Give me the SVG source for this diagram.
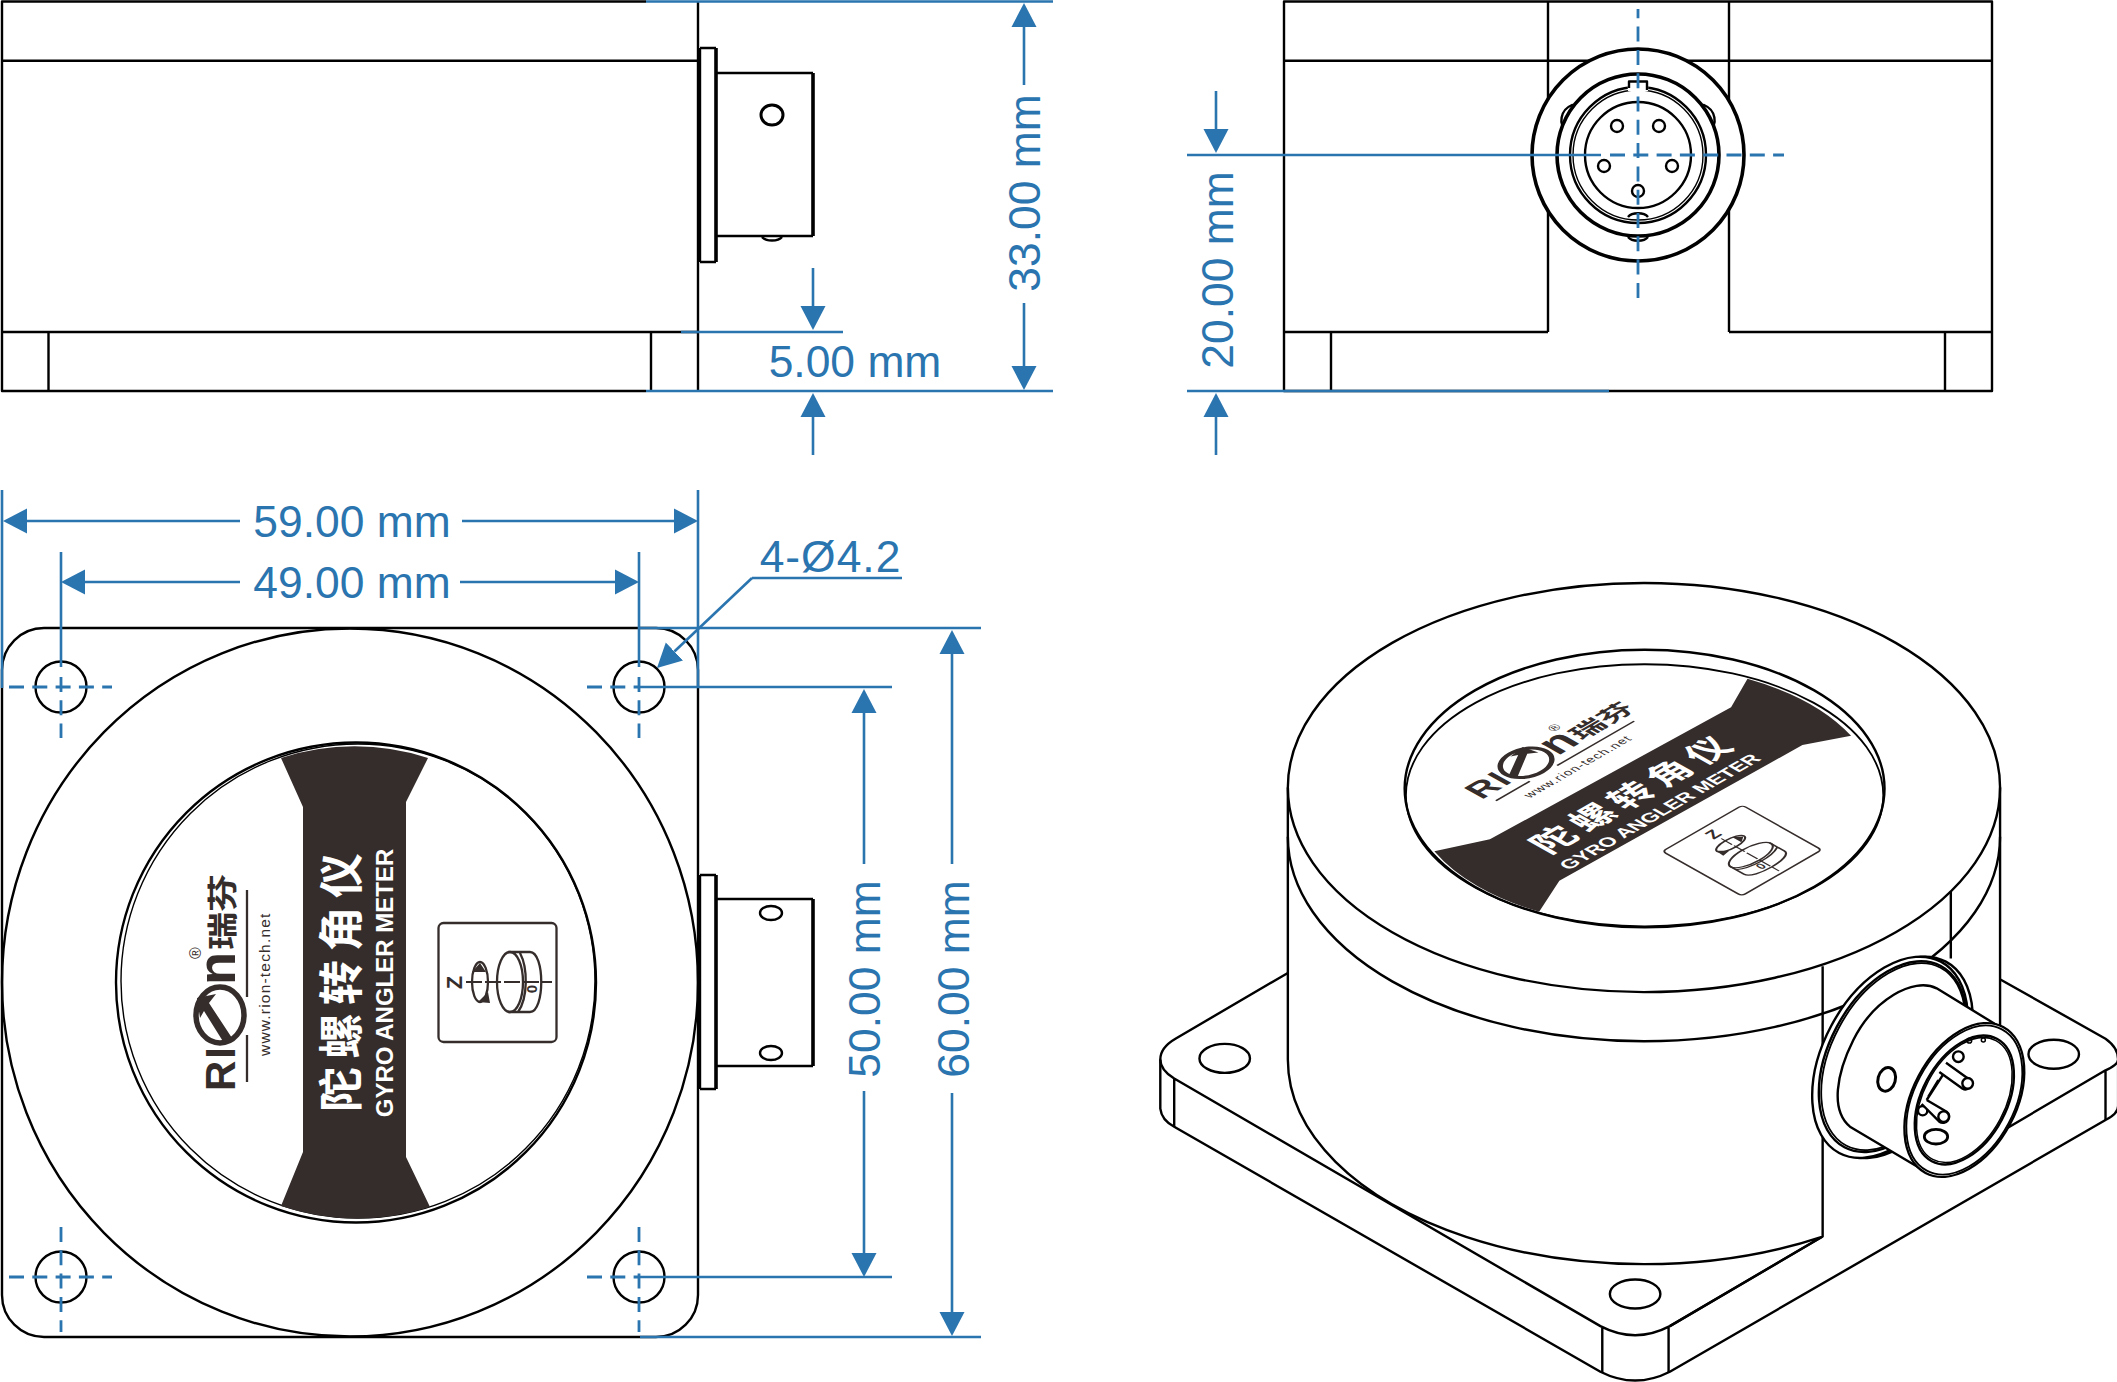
<svg xmlns="http://www.w3.org/2000/svg" width="2117" height="1382" viewBox="0 0 2117 1382">
<style>
.k{fill:none;stroke:#000;stroke-width:2.4;stroke-linejoin:round}
.kw{fill:#fff;stroke:#000;stroke-width:2.4;stroke-linejoin:round}
.h{fill:none;stroke:#000;stroke-width:3.6;stroke-linejoin:round}
.hw{fill:#fff;stroke:#000;stroke-width:3.6}
.n{vector-effect:non-scaling-stroke}
.b{fill:none;stroke:#2a75af;stroke-width:2.6}
.d{fill:none;stroke:#2a75af;stroke-width:2.8;stroke-dasharray:15 8.3}
.a{fill:none;stroke:#2a75af;stroke-width:2.6;marker-end:url(#ah)}
.t{font-family:"Liberation Sans",Arial,sans-serif;font-size:44.4px;fill:#2a75af;text-anchor:middle}
.s{font-family:"Liberation Sans",Arial,sans-serif;fill:#352d2b}
.c{font-family:"Noto Sans CJK SC",sans-serif}
.dk{fill:#352d2b}
.ls{fill:none;stroke:#352d2b;stroke-width:2.3}
</style>
<defs>
<marker id="ah" markerUnits="userSpaceOnUse" markerWidth="25" markerHeight="26" refX="0" refY="13" orient="auto"><path d="M0,0.5 L24,13 L0,25.5 Z" fill="#2a75af"/></marker>
</defs>
<rect width="2117" height="1382" fill="#fff"/>

<g id="side-view">
<path class="k" d="M646,1.5 H2 V391 H646 M2,60.7 H698 M2,332 H698 M698,1.5 V391 M48.5,332 V391 M651,332 V391"/>
<path class="k" d="M700,48 H716 M700,262 H716 M700,48 V262"/>
<path class="h" d="M716,48 V262 M813,73 V236"/>
<path class="k" d="M716,73 H813 M716,236 H813"/>
<ellipse class="h" cx="772" cy="115" rx="11" ry="10" style="stroke-width:3"/>
<path class="k" d="M762,237 A11,6 0 0 0 782,237"/>
</g>

<g id="end-view">
<path class="k" d="M1284,1.5 H1992 V391 H1284 Z M1284,60.7 H1992 M1284,332 H1548 M1729,332 H1992 M1548,1.5 V332 M1729,1.5 V332 M1331,332 V391 M1945,332 V391"/>
<circle class="hw" cx="1638" cy="155" r="106"/>
<path class="k" d="M1572,105 C1560,110 1558,125 1567,130 L1585,128 C1588,122 1586,110 1572,105 Z M1704,105 C1716,110 1718,125 1709,130 L1691,128 C1688,122 1690,110 1704,105 Z"/>
<path class="k" d="M1628,237 C1632,242 1644,242 1648,237"/>
<circle class="hw" cx="1638" cy="155" r="81"/>
<circle class="kw" cx="1638" cy="155" r="68"/>
<circle class="k" cx="1638" cy="155" r="65" style="stroke-width:1.4"/>
<path class="kw" d="M1629,90 V82 H1647 V90 Z" style="stroke:#fff"/>
<path class="k" d="M1629,88 V81.5 H1647 V90"/>
<path class="k" d="M1628,217 C1632,212 1644,212 1648,217"/>
<circle class="k" cx="1638" cy="155" r="53"/>
<circle class="k" cx="1617" cy="126" r="6"/>
<circle class="k" cx="1659" cy="126" r="6"/>
<circle class="k" cx="1604" cy="166" r="6"/>
<circle class="k" cx="1672" cy="166" r="6"/>
<circle class="k" cx="1638" cy="191" r="6"/>
</g>

<g id="front-view">
<rect class="k" x="2" y="628" width="696" height="709" rx="42"/>
<ellipse class="k" cx="350" cy="982.5" rx="348" ry="354"/>
<circle class="k" cx="61" cy="687" r="25.500"/>
<circle class="k" cx="639" cy="687" r="25.500"/>
<circle class="k" cx="61" cy="1277" r="25.500"/>
<circle class="k" cx="639" cy="1277" r="25.500"/>
<path class="k" d="M700,875 H716 M700,1089 H716 M700,875 V1089"/>
<path class="h" d="M716,875 V1089 M813,899 V1066"/>
<path class="k" d="M716,899 H813 M716,1066 H813"/>
<ellipse class="k" cx="771" cy="913" rx="11" ry="7"/>
<ellipse class="k" cx="771" cy="1053" rx="11" ry="7"/>
<circle class="k" cx="356" cy="982.5" r="240"/>
<circle class="k" cx="358" cy="981" r="237" style="stroke-width:1.4"/>
</g>

<g id="front-label">
<path class="dk" d="M281,758 L303,807 V1152 L281,1206 A237,237 0 0 0 430,1207 L406,1157 V802 L428,758 A237,237 0 0 0 281,758 Z"/>
<text class="c" transform="translate(357.6,1112) rotate(-90)" font-size="45" font-weight="700" letter-spacing="8.5" fill="#fff">陀螺转角仪</text>
<text class="s" transform="translate(393,983) rotate(-90)" font-size="24" font-weight="700" text-anchor="middle" style="fill:#fff">GYRO ANGLER METER</text>
<text class="s" transform="translate(235,1091) rotate(-90)" font-size="42" font-weight="700" letter-spacing="2">RI</text>
<ellipse class="ls" cx="220" cy="1015" rx="24" ry="28" style="stroke-width:5.500"/>
<path class="dk" d="M197,998 L216,994 L209,1003 L232,1038 L224,1043 L204,1011 L200,1018 Z"/>
<text class="s" transform="translate(235,985) rotate(-90)" font-size="54" font-weight="700">n</text>
<text class="s" transform="translate(201,953) rotate(-90)" font-size="16" text-anchor="middle">®</text>
<text class="c" transform="translate(233,950) rotate(-90) scale(1.27,1)" font-size="30" font-weight="700" fill="#352d2b">瑞芬</text>
<path class="ls" d="M247,890 V997 M247,1035 V1082"/>
<text class="s" transform="translate(269.500,1056) rotate(-90)" font-size="15.500" letter-spacing="1.2">www.rion-tech.net</text>
<rect class="ls" x="438.500" y="923" width="118" height="119" rx="5"/>
<text class="s" transform="translate(462,982.500) rotate(-90)" font-size="22" font-weight="700" text-anchor="middle">Z</text>
<ellipse class="ls" cx="480" cy="982" rx="8" ry="20"/>
<path class="dk" d="M472,972 L480,963 L486,972 Z M478,1002 L488,992 L490,1003 Z"/>
<path class="ls" d="M508,952 H530 C545,952 545,1012 530,1012 H508 M520,953 C528,968 528,998 518,1012"/>
<ellipse class="ls" cx="510" cy="982" rx="13" ry="30"/>
<path class="ls" d="M466,982 H552" stroke-dasharray="16 3" style="stroke-width:1.8"/>
<text class="s" transform="translate(537,989) rotate(-90)" font-size="15" font-weight="700" text-anchor="middle">0</text>
</g>

<g id="iso-view">
<g transform="translate(1130,570) scale(.6314,.5179)">
<path class="kw n" d="M250,778 L72,905 Q48,922 48,945 V1040 Q50,1062 70,1075 L745,1548 Q800,1582 855,1548 L1545,1062 Q1565,1050 1565,1035 V945 Q1565,922 1545,905 L1370,785 Z"/>
<path class="k n" d="M48,945 Q48,965 70,982 L745,1460 Q800,1495 855,1460 L1545,966 Q1565,955 1565,945 M70,982 V1075 M748,1462 V1550 M853,1462 V1550 M1545,966 V1062"/>
<ellipse class="k n" cx="150" cy="943" rx="40" ry="28"/>
<ellipse class="k n" cx="800" cy="1398" rx="40" ry="28"/>
<ellipse class="k n" cx="1463" cy="935" rx="40" ry="28"/>
<path class="n" fill="#fff" d="M250,420 V945 A564,395 0 0 0 1097,1287 L1097,1293 L1390,1084 L1378,1070 V420 A564,395 0 0 0 250,420 Z"/>
<path class="k n" d="M250,420 V945 A564,395 0 0 0 1097,1287 M1378,420 V880 M1097,765 V1287 L855,1460 M1300,620 V750"/>
<ellipse class="k n" cx="814" cy="420" rx="564" ry="395"/>
<path class="k n" d="M250,515 A564,395 0 0 0 1378,515"/>
<ellipse class="k n" cx="815" cy="422" rx="380" ry="268"/>
<ellipse class="k n" style="stroke-width:1.800" cx="815" cy="435" rx="378" ry="253"/>
<path class="dk" d="M978,210 A378,253 0 0 1 1142,320 L1065,338 L680,600 L648,660 A378,253 0 0 1 482,543 L570,520 L952,265 Z"/>
</g>
</g>

<g id="iso-label" transform="matrix(.672 .378 -.72 .415 2109 258.4)">
<text class="c" transform="translate(357.6,1112) rotate(-90)" font-size="45" font-weight="700" letter-spacing="8.5" fill="#fff">陀螺转角仪</text>
<text class="s" transform="translate(393,983) rotate(-90)" font-size="24" font-weight="700" text-anchor="middle" style="fill:#fff">GYRO ANGLER METER</text>
<text class="s" transform="translate(235,1091) rotate(-90)" font-size="42" font-weight="700" letter-spacing="2">RI</text>
<ellipse class="ls" cx="220" cy="1015" rx="24" ry="28" style="stroke-width:5.500"/>
<path class="dk" d="M197,998 L216,994 L209,1003 L232,1038 L224,1043 L204,1011 L200,1018 Z"/>
<text class="s" transform="translate(235,985) rotate(-90)" font-size="54" font-weight="700">n</text>
<text class="s" transform="translate(201,953) rotate(-90)" font-size="16" text-anchor="middle">®</text>
<text class="c" transform="translate(233,950) rotate(-90) scale(1.27,1)" font-size="30" font-weight="700" fill="#352d2b">瑞芬</text>
<path class="ls" d="M247,890 V997 M247,1035 V1082"/>
<text class="s" transform="translate(269.500,1056) rotate(-90)" font-size="15.500" letter-spacing="1.2">www.rion-tech.net</text>
</g>
<g id="iso-icon" transform="matrix(.672 .378 -.672 .387 2068 282.3)">
<rect class="ls" x="438.500" y="923" width="118" height="119" rx="5"/>
<text class="s" transform="translate(462,982.500) rotate(-90)" font-size="22" font-weight="700" text-anchor="middle">Z</text>
<ellipse class="ls" cx="480" cy="982" rx="8" ry="20"/>
<path class="dk" d="M472,972 L480,963 L486,972 Z M478,1002 L488,992 L490,1003 Z"/>
<path class="ls" d="M508,952 H530 C545,952 545,1012 530,1012 H508 M520,953 C528,968 528,998 518,1012"/>
<ellipse class="ls" cx="510" cy="982" rx="13" ry="30"/>
<path class="ls" d="M466,982 H552" stroke-dasharray="16 3" style="stroke-width:1.8"/>
<text class="s" transform="translate(537,989) rotate(-90)" font-size="15" font-weight="700" text-anchor="middle">0</text>
</g>

<g id="iso-connector" transform="translate(1780,940) scale(.33333)">
<ellipse class="kw n" transform="rotate(-62 345 352)" cx="345" cy="352" rx="325" ry="200"/>
<ellipse class="kw n" transform="rotate(-62 330 352)" cx="330" cy="352" rx="325" ry="200"/>
<ellipse class="k n" transform="rotate(-62 338 350)" cx="338" cy="350" rx="308" ry="190"/>
<ellipse class="k n" style="stroke-width:1.800" transform="rotate(-62 340 350)" cx="340" cy="350" rx="302" ry="185"/>
<path class="kw n" d="M420,685 L210,560 C150,510 170,400 220,300 C280,180 400,110 470,145 L650,255 Z"/>
<ellipse class="k n" style="stroke-width:3" transform="rotate(-75 320 418)" cx="320" cy="418" rx="36" ry="26"/>
<ellipse class="kw n" transform="rotate(-62 553 480)" cx="553" cy="480" rx="248" ry="155"/>
<ellipse class="k n" style="stroke-width:1.800" transform="rotate(-62 553 480)" cx="553" cy="480" rx="240" ry="150"/>
<ellipse class="k n" transform="rotate(-62 553 480)" cx="553" cy="480" rx="208" ry="127"/>
<ellipse class="k n" style="stroke-width:1.500" transform="rotate(-62 553 480)" cx="553" cy="480" rx="202" ry="122"/>
<circle class="k n" cx="535" cy="350" r="16"/>
<circle class="k n" cx="428" cy="512" r="14"/>
<path class="k n" d="M495,395 L440,480 M475,420 L445,470"/>
<path class="kw n" d="M478,396 L548,446 A16,16 0 0 0 565,416 L498,368"/>
<circle class="kw n" cx="563" cy="430" r="16"/>
<path class="kw n" d="M425,492 L478,545 A16,16 0 0 0 500,515 L440,480"/>
<circle class="kw n" cx="491" cy="530" r="16"/>
<ellipse class="k n" style="stroke-width:2.800" cx="468" cy="590" rx="35" ry="22"/>
<circle class="k n" style="stroke-width:1.500" cx="568" cy="302" r="7"/>
<circle class="k n" style="stroke-width:1.500" cx="610" cy="300" r="6"/>
</g>

<g id="connectors">
<path class="b" d="M646,1.5 H1053 M646,391 H1053 M681,332 H843 M1187,155 H1601 M1187,391 H1609"/>
<path class="d" d="M1610,155 H1784"/>
<path class="d" d="M1638,9 V300" stroke-dashoffset="5.700"/>
<path class="a" d="M1024,85 V27"/><path class="a" d="M1024,303 V366"/>
<path class="a" d="M813,268 V306"/><path class="a" d="M813,455 V417"/>
<path class="a" d="M1216,91 V129"/><path class="a" d="M1216,455 V417"/>
<path class="b" d="M2,490 V688 M698,490 V688 M61,552 V667 M639,552 V667 M640,628 H981 M640,1337 H981 M640,687 H892 M640,1277 H892"/>
<path class="d" d="M61,677 V738 M639,677 V738 M9,687 H112 M587,687 H640 M61,1227 V1332 M639,1227 V1332 M9,1277 H112 M587,1277 H640"/>
<path class="a" d="M240,521 H27"/><path class="a" d="M462,521 H674"/>
<path class="a" d="M240,582 H85"/><path class="a" d="M460,582 H615"/>
<path class="a" d="M952,864 V654"/><path class="a" d="M952,1093 V1312"/>
<path class="a" d="M864,864 V713"/><path class="a" d="M864,1091 V1253"/>
<path class="b" d="M902,578 H752"/><path class="a" d="M752,578 L674.400,651.500"/>
</g>

<g id="dimension-labels">
<text class="t" transform="translate(1040,193) rotate(-90)">33.00 mm</text>
<text class="t" x="855" y="377">5.00 mm</text>
<text class="t" transform="translate(1233,270) rotate(-90)">20.00 mm</text>
<text class="t" x="352" y="537">59.00 mm</text>
<text class="t" x="352" y="598">49.00 mm</text>
<text class="t" x="830.500" y="572" letter-spacing="1">4-Ø4.2</text>
<text class="t" transform="translate(969,979) rotate(-90)">60.00 mm</text>
<text class="t" transform="translate(880,979) rotate(-90)">50.00 mm</text>
</g>
</svg>
